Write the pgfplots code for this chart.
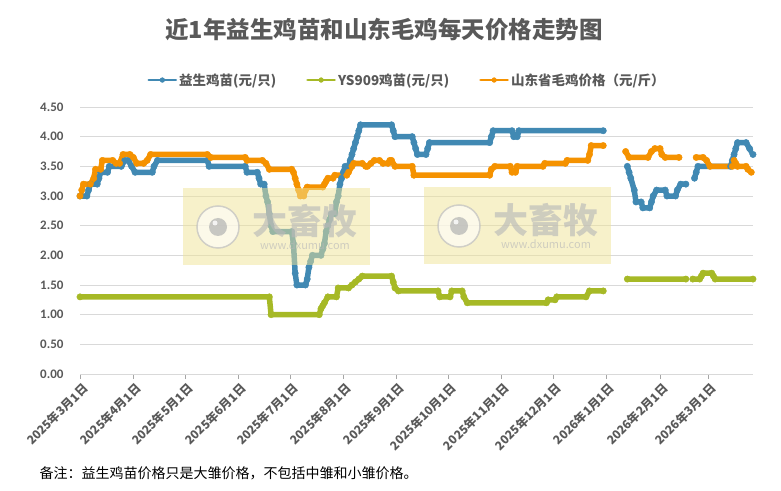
\documentclass[border=0pt]{standalone}
\usepackage{fontspec}
\usepackage{pgfplots}
\pgfplotsset{compat=1.18}
\setmainfont{Noto Sans CJK SC}
\newfontfamily\calib{Carlito}

\definecolor{ysblue}{RGB}{65,137,179}
\definecolor{ysgreen}{RGB}{166,185,38}
\definecolor{sdorange}{RGB}{245,146,0}
\definecolor{txtgray}{RGB}{89,89,89}
\definecolor{gridgray}{RGB}{217,217,217}
\definecolor{wmyellow}{RGB}{240,228,150}

\pgfplotsset{ser/.style={color=#1, line width=5.5pt, line join=round, line cap=round,
  mark=*, mark size=3.2pt, mark options={fill=#1, draw=#1, line width=0.4pt}}}

% watermark: box, logo and site name (decoration only)
\newcommand{\wmark}[2]{%
  \begin{scope}[shift={(#1,#2)}]
    \fill[wmyellow, fill opacity=0.5] (0,0) rectangle (187,77);
    \fill[white, fill opacity=0.6] (35,38) circle (21);
    \draw[gray!50, line width=1.5pt, opacity=0.7] (35,38) circle (21);
    \fill[gray!60, opacity=0.7] (35,38) circle (9);
    \fill[white, opacity=0.8] (32,42) circle (2.5);
    \node[text=gray!55, opacity=0.65, font=\bfseries\fontsize{35}{36}\selectfont] at (122,44) {大畜牧};
    \node[text=gray!55, opacity=0.65, font=\fontsize{11}{12}\selectfont] at (122,20) {www.dxumu.com};
  \end{scope}}

\begin{document}
\begin{tikzpicture}[x=1pt,y=1pt]
\path[use as bounding box] (0,0) rectangle (781,490);

\node[text=txtgray, font=\bfseries\fontsize{23.5}{25}\selectfont] at (384,460) {近1年益生鸡苗和山东毛鸡每天价格走势图};

\begin{axis}[
  at={(80pt,116pt)}, anchor=south west,
  scale only axis, width=673pt, height=267pt,
  xmin=0, xmax=391, ymin=0, ymax=4.5,
  unbounded coords=jump,
  axis x line*=bottom, axis y line*=left,
  x axis line style={draw=gridgray, line width=0.8pt},
  y axis line style={draw=none},
  ytick={0,0.5,...,4.5},
  ymajorgrids, grid style={draw=gridgray, line width=0.8pt},
  yticklabel style={/pgf/number format/fixed, /pgf/number format/fixed zerofill,
    /pgf/number format/precision=2, /pgf/number format/assume math mode=true,
    font=\calib\bfseries\fontsize{13}{14}\selectfont, text=txtgray, xshift=-8pt},
  ytick style={draw=none},
  xtick={0,31,61,92,122,153,184,214,245,275,306,337,365},
  xticklabels={2025年3月1日,2025年4月1日,2025年5月1日,2025年6月1日,2025年7月1日,2025年8月1日,2025年9月1日,2025年10月1日,2025年11月1日,2025年12月1日,2026年1月1日,2026年2月1日,2026年3月1日},
  xticklabel style={rotate=45, anchor=north east, inner sep=1pt, yshift=-2pt,
    font=\bfseries\fontsize{12}{13}\selectfont, text=txtgray},
  xtick style={draw=gray!70, line width=0.6pt},
  tick align=outside, major tick length=5pt,
  legend columns=3,
  legend style={at={(0.486,1.101)}, anchor=center, draw=none, fill=none,
    font=\bfseries\fontsize{13.5}{14}\selectfont, text=txtgray,
    /tikz/every even column/.append style={column sep=28pt},
    nodes={inner sep=2pt}},
  legend image code/.code={
    \draw[#1, line width=2.8pt, mark=none] (0pt,0pt) -- (27pt,0pt);
    \draw[#1, mark size=2.4pt] plot coordinates {(13.5pt,0pt)};},
]
% x = days since 2025-03-01
\addplot[ser=ysblue] coordinates {
(0,3.0)(4,3.0)(5,3.1)(6,3.2)(10,3.2)(11,3.3)(12,3.4)(16,3.4)(17,3.5)(24,3.5)(26,3.6)(28,3.6)(30,3.5)(32,3.4)
(42,3.4)(43,3.5)(45,3.6)(74,3.6)(75,3.5)(96,3.5)(97,3.4)(103,3.4)(104,3.3)(105,3.2)(107,3.2)(108,3.0)
(109,2.9)(110,2.7)(111,2.5)(112,2.4)(123,2.4)(124,2.2)(125,1.7)(126,1.5)(131,1.5)(132,1.6)(133,1.8)
(134,1.9)(135,2.0)(140,2.0)(141,2.1)(142,2.2)(143,2.4)(144,2.5)(145,2.6)(146,2.7)(148,2.7)(149,2.9)
(150,3.0)(151,3.2)(152,3.3)(153,3.4)(154,3.5)(156,3.5)(157,3.6)(158,3.7)(159,3.8)(160,3.9)(161,4.0)
(162,4.1)(163,4.2)(181,4.2)(182,4.1)(183,4.0)(193,4.0)(194,3.9)(195,3.8)(196,3.7)(201,3.7)(202,3.8)
(203,3.9)(238,3.9)(239,4.0)(240,4.1)(251,4.1)(252,4.0)(254,4.0)(255,4.1)(304,4.1)
(311,nan)
(318,3.5)(319,3.4)(320,3.3)(322,3.1)(323,2.9)(326,2.9)(327,2.8)(331,2.8)(332,2.9)(333,3.0)(335,3.1)
(340,3.1)(341,3.0)(346,3.0)(347,3.1)(349,3.2)(352,3.2)
(355,nan)
(357,3.3)(358,3.4)(359,3.5)(378,3.5)(379,3.6)(380,3.7)(381,3.8)(382,3.9)(387,3.9)(389,3.8)(391,3.7)
};
\addlegendentry{益生鸡苗(元/只)}
\addplot[ser=ysgreen] coordinates {
(0,1.3)(110,1.3)(111,1.0)(139,1.0)(140,1.1)(141,1.15)(142,1.2)(144,1.3)(149,1.3)(150,1.45)(156,1.45)
(158,1.5)(160,1.55)(162,1.6)(164,1.65)(181,1.65)(182,1.55)(183,1.45)(185,1.4)(208,1.4)(209,1.3)
(215,1.3)(216,1.4)(222,1.4)(223,1.3)(225,1.2)(271,1.2)(272,1.25)(276,1.25)(277,1.3)(294,1.3)
(296,1.4)(304,1.4)
(311,nan)
(318,1.6)(352,1.6)
(354,nan)
(356,1.6)(360,1.6)(361,1.65)(362,1.7)(367,1.7)(368,1.65)(369,1.6)(391,1.6)
};
\addlegendentry{YS909鸡苗(元/只)}
\addplot[ser=sdorange] coordinates {
(0,3.0)(1,3.1)(2,3.2)(6,3.2)(8,3.3)(9,3.45)(12,3.45)(13,3.6)(19,3.6)(21,3.55)(23,3.55)(25,3.7)(29,3.7)
(31,3.65)(33,3.55)(37,3.55)(39,3.6)(41,3.7)(74,3.7)(76,3.65)(96,3.65)(97,3.6)(106,3.6)(108,3.55)
(110,3.45)(123,3.45)(124,3.4)(125,3.3)(126,3.2)(127,3.1)(128,3.0)(130,3.0)(131,3.1)(132,3.15)
(141,3.15)(142,3.2)(143,3.25)(144,3.3)(147,3.3)(148,3.35)(155,3.35)(156,3.4)(158,3.5)(159,3.55)
(164,3.55)(166,3.5)(167,3.5)(169,3.55)(171,3.6)(174,3.6)(176,3.55)(179,3.55)(180,3.6)(181,3.6)
(183,3.5)(193,3.5)(194,3.35)(238,3.35)(239,3.45)(241,3.5)(250,3.5)(251,3.4)(253,3.4)(254,3.5)
(269,3.5)(270,3.55)(282,3.55)(283,3.6)(295,3.6)(296,3.7)(297,3.85)(304,3.85)
(311,nan)
(317,3.75)(319,3.65)(330,3.65)(332,3.75)(334,3.8)(337,3.8)(338,3.7)(340,3.65)(348,3.65)
(353,nan)
(358,3.65)(362,3.65)(364,3.6)(366,3.5)(379,3.5)(380,3.6)(381,3.55)(382,3.5)(387,3.5)(388,3.45)(390,3.4)
};
\addlegendentry{山东省毛鸡价格（元/斤）}
\end{axis}

\wmark{183}{225}
\wmark{424}{226}

\node[anchor=west, font=\fontsize{14}{16}\selectfont] at (36,17) {备注：益生鸡苗价格只是大雏价格，不包括中雏和小雏价格。};
\end{tikzpicture}
\end{document}
